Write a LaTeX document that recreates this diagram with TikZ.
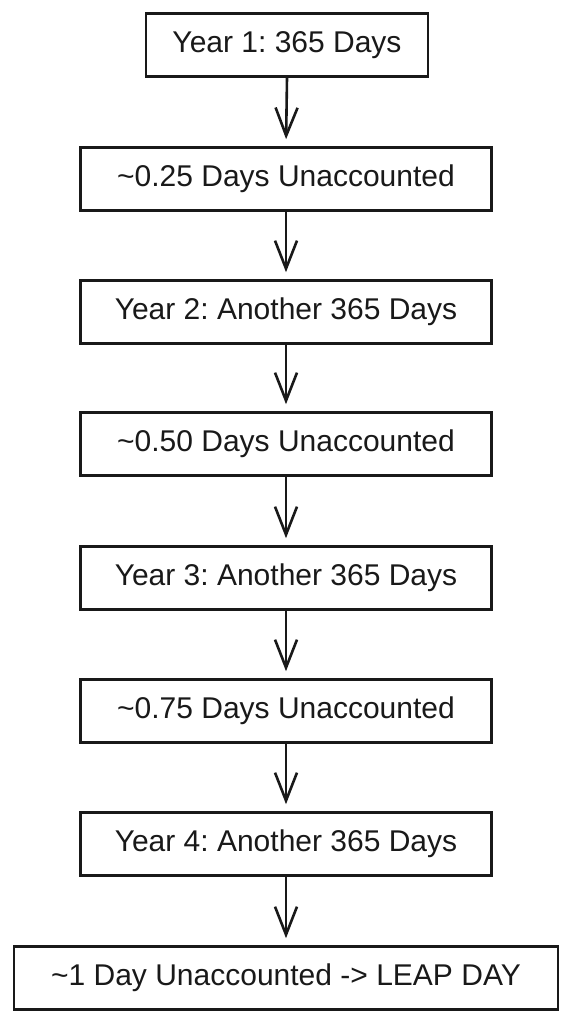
\documentclass[tikz,border=0pt]{standalone}
\usepackage{fontspec}
\setmainfont{Liberation Sans}
\usetikzlibrary{arrows.meta}
\frenchspacing
\begin{document}
\begin{tikzpicture}[x=1pt,y=-1pt,
  box/.style={draw=black!90, line width=2.6pt, minimum height=63pt, inner sep=0pt,
    font=\fontsize{30}{34}\selectfont, text=black!90, fill=white},
  conn/.style={draw=black!90, line width=2.6pt, -{Straight Barb[length=28pt,width=22pt,line width=2.6pt]}, shorten >=7pt}]
\useasboundingbox (0,0) rectangle (572,1024);
\node[box, minimum width=282pt] (b1) at (287,45) {Year 1: 365 Days};
\node[box, minimum width=411pt] (b2) at (286,179) {\textasciitilde0.25 Days Unaccounted};
\node[box, minimum width=411pt] (b3) at (286,312) {Year 2: Another 365 Days};
\node[box, minimum width=411pt] (b4) at (286,444) {\textasciitilde0.50 Days Unaccounted};
\node[box, minimum width=411pt] (b5) at (286,578) {Year 3: Another 365 Days};
\node[box, minimum width=411pt] (b6) at (286,711) {\textasciitilde0.75 Days Unaccounted};
\node[box, minimum width=411pt] (b7) at (286,844) {Year 4: Another 365 Days};
\node[box, minimum width=544pt] (b8) at (286,978) {\textasciitilde1 Day Unaccounted -> LEAP DAY};
\foreach \a/\b in {b1/b2,b2/b3,b3/b4,b4/b5,b5/b6,b6/b7,b7/b8}
  \draw[conn] (\a.south) -- (\b.north);
\end{tikzpicture}
\end{document}
